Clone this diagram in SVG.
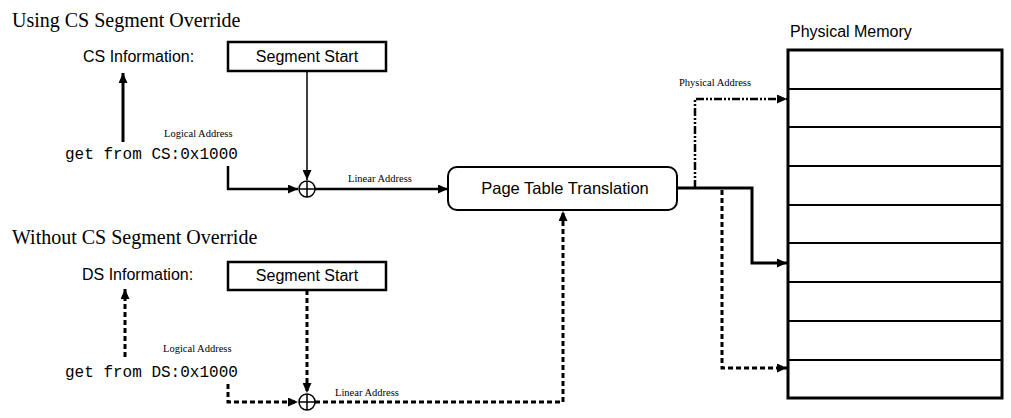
<svg xmlns="http://www.w3.org/2000/svg" width="1011" height="418" viewBox="0 0 1011 418">
<style>
.title{font-family:"Liberation Serif",serif;font-size:20px;fill:#000}
.lbl{font-family:"Liberation Sans",Arial,sans-serif;font-size:16px;fill:#000}
.small{font-family:"Liberation Serif",serif;font-size:10.5px;fill:#000}
.mono{font-family:"Liberation Mono","Courier New",monospace;font-size:16px;fill:#000}
.box{fill:#fff;stroke:#000;stroke-width:2.5}
.mem{fill:#fff;stroke:#000;stroke-width:3}
.row{stroke:#000;stroke-width:2.2}
.c{fill:none;stroke:#000;stroke-width:2.5}
.thin{stroke-width:1.5}
.dash{stroke-dasharray:5,3;stroke-width:3}
.dd{stroke-dasharray:8,2,2,2,2,2;stroke-width:2.5}
</style>
<defs>
<marker id="ah" markerUnits="userSpaceOnUse" markerWidth="10" markerHeight="9" refX="10" refY="4.5" orient="auto">
<path d="M0,0 L10,4.5 L0,9 z" fill="#000"/>
</marker>
</defs>
<text class="title" x="12" y="27">Using CS Segment Override</text>
<text class="title" x="12" y="244">Without CS Segment Override</text>
<g id="cs-info"><text class="lbl" x="83" y="62">CS Information:</text></g>
<g id="cs-seg"><rect class="box" x="228" y="42" width="158" height="29"/><text class="lbl" x="307" y="62" text-anchor="middle">Segment Start</text></g>
<g id="cs-get"><text class="mono" x="65" y="159">get from CS:0x1000</text></g>
<g id="cs-sum"><circle cx="307" cy="189" r="8" fill="#fff" stroke="#000" stroke-width="1.5"/><path d="M299,189 H315 M307,181 V197" stroke="#000" stroke-width="1.5"/></g>
<g id="ds-info"><text class="lbl" x="82" y="280">DS Information:</text></g>
<g id="ds-seg"><rect class="box" x="228" y="262" width="158" height="28"/><text class="lbl" x="307" y="281" text-anchor="middle">Segment Start</text></g>
<g id="ds-get"><text class="mono" x="65" y="377">get from DS:0x1000</text></g>
<g id="ds-sum"><circle cx="307" cy="402" r="8" fill="#fff" stroke="#000" stroke-width="1.5"/><path d="M299,402 H315 M307,394 V410" stroke="#000" stroke-width="1.5"/></g>
<g id="ptt"><rect x="448" y="167" width="229" height="43" rx="9" fill="#fff" stroke="#000" stroke-width="2"/><text class="lbl" x="565" y="194" text-anchor="middle" style="font-size:16.5px">Page Table Translation</text></g>
<g id="memory">
<text class="lbl" x="790" y="37">Physical Memory</text>
<rect class="mem" x="788" y="50" width="214" height="348"/>
<path class="row" d="M788,89 H1002 M788,127 H1002 M788,166 H1002 M788,205 H1002 M788,243 H1002 M788,282 H1002 M788,321 H1002 M788,360 H1002"/>
</g>
<g id="connectors">
<path class="c" style="stroke-width:3" d="M123,142 V73" marker-end="url(#ah)"/>
<path class="c" d="M228,166 V189 H298" marker-end="url(#ah)"/>
<path class="c thin" d="M307,71 V180" marker-end="url(#ah)"/>
<path class="c" d="M315,189 H448" marker-end="url(#ah)"/>
<path class="c dash" d="M125,357 V289" marker-end="url(#ah)"/>
<path class="c dash" d="M228,384 V402 H298" marker-end="url(#ah)"/>
<path class="c dash" d="M307,290 V393" marker-end="url(#ah)"/>
<path class="c dash" d="M315,402 H563 V211" marker-end="url(#ah)"/>
<path class="c" style="stroke-width:3" d="M677,188 H752 V263 H787" marker-end="url(#ah)"/>
<path class="c dd" d="M695,188 V99 H787" marker-end="url(#ah)"/>
<path class="c dash" d="M722,190 V368 H787" marker-end="url(#ah)"/>
<text class="small" x="164" y="137">Logical Address</text>
<text class="small" x="348" y="182">Linear Address</text>
<text class="small" x="163" y="352">Logical Address</text>
<text class="small" x="335" y="396">Linear Address</text>
<text class="small" x="679" y="86">Physical Address</text>
</g>
</svg>
